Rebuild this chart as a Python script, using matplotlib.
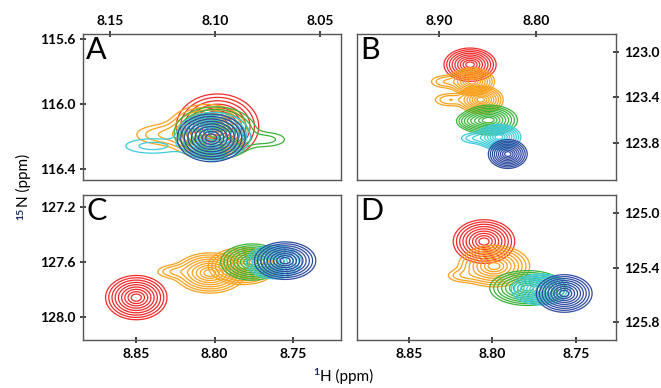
import numpy as np
import matplotlib
matplotlib.use('Agg')
import matplotlib.pyplot as plt

plt.rcParams['font.family'] = ['Lato', 'DejaVu Sans']

colours = {'red': '#f42a2a', 'orange': '#f8a11c', 'green': '#37b437',
           'cyan': '#3ccbdc', 'blue': '#2f4b9f'}

# peaks: (colour, 1H ppm, 15N ppm, 1H width, 15N width)
peaks_a = [('red', 8.099, 116.14, 0.0080, 0.082),
           ('orange', 8.104, 116.17, 0.0078, 0.068),
           ('green', 8.100, 116.18, 0.0080, 0.066),
           ('cyan', 8.101, 116.20, 0.0072, 0.060),
           ('blue', 8.102, 116.21, 0.0066, 0.060)]
# weak shoulders: (index of peak, 1H, 15N, amplitude, 1H width, 15N width)
shoulders_a = [(1, 8.124, 116.19, 0.15, 0.009, 0.040),
               (2, 8.076, 116.22, 0.11, 0.007, 0.032),
               (3, 8.130, 116.26, 0.11, 0.010, 0.035)]

peaks_b = [('red', 8.868, 123.11, 0.0110, 0.060),
           ('orange', 8.866, 123.26, 0.0095, 0.050),
           ('orange', 8.857, 123.42, 0.0095, 0.050),
           ('green', 8.848, 123.60, 0.0118, 0.054),
           ('cyan', 8.838, 123.75, 0.0092, 0.046),
           ('blue', 8.829, 123.90, 0.0082, 0.052)]
shoulders_b = [(1, 8.893, 123.26, 0.15, 0.010, 0.035),
               (2, 8.889, 123.42, 0.15, 0.010, 0.035),
               (3, 8.866, 123.61, 0.25, 0.008, 0.035),
               (4, 8.862, 123.76, 0.15, 0.010, 0.030)]

peaks_c = [('red', 8.850, 127.86, 0.0080, 0.066),
           ('orange', 8.803, 127.68, 0.0092, 0.060),
           ('orange', 8.782, 127.63, 0.0090, 0.055),
           ('green', 8.776, 127.60, 0.0082, 0.054),
           ('cyan', 8.762, 127.60, 0.0072, 0.050),
           ('blue', 8.755, 127.59, 0.0080, 0.056)]
shoulders_c = [(1, 8.826, 127.67, 0.14, 0.007, 0.030)]

peaks_d = [('red', 8.805, 125.21, 0.0075, 0.065),
           ('orange', 8.799, 125.39, 0.0087, 0.062),
           ('green', 8.779, 125.55, 0.0092, 0.052),
           ('cyan', 8.771, 125.56, 0.0072, 0.046),
           ('blue', 8.757, 125.59, 0.0068, 0.056)]
shoulders_d = [(1, 8.818, 125.46, 0.12, 0.006, 0.030)]

# axis ranges and ticks
xlims = [(8.163, 8.040), (8.985, 8.717), (8.884, 8.719), (8.881, 8.726)]
ylims = [(116.47, 115.57), (124.13, 122.84), (128.17, 127.11), (125.93, 124.87)]
xticks = [[8.15, 8.10, 8.05], [8.90, 8.80], [8.85, 8.80, 8.75], [8.85, 8.80, 8.75]]
yticks = [[115.6, 116.0, 116.4], [123.0, 123.4, 123.8],
          [127.2, 127.6, 128.0], [125.0, 125.4, 125.8]]
letters = ['A', 'B', 'C', 'D']

# contour levels giving roughly evenly spaced rings
radii = np.linspace(2.45, 0.4, 9)
levels = np.sort(np.exp(-0.5 * radii ** 2))

fig = plt.figure(figsize=(6.61, 3.88), dpi=100)
boxes = [[0.1256, 0.536, 0.391, 0.376], [0.540, 0.536, 0.392, 0.376],
         [0.1256, 0.1237, 0.391, 0.3737], [0.540, 0.1237, 0.392, 0.3737]]

panels = [(peaks_a, shoulders_a), (peaks_b, shoulders_b),
          (peaks_c, shoulders_c), (peaks_d, shoulders_d)]

for i, (peaks, shoulders) in enumerate(panels):
    ax = fig.add_axes(boxes[i])
    hh = np.linspace(min(xlims[i]), max(xlims[i]), 400)
    nn = np.linspace(min(ylims[i]), max(ylims[i]), 400)
    H, N = np.meshgrid(hh, nn)
    for k, (col, h, n, sh, sn) in enumerate(peaks):
        z = np.exp(-0.5 * ((H - h) / sh) ** 2 - 0.5 * ((N - n) / sn) ** 2)
        for (idx, h2, n2, amp, sh2, sn2) in shoulders:
            if idx == k:
                z += amp * np.exp(-0.5 * ((H - h2) / sh2) ** 2 - 0.5 * ((N - n2) / sn2) ** 2)
        ax.contour(H, N, z, levels=levels, colors=colours[col], linewidths=0.9)

    ax.set_xlim(xlims[i])
    ax.set_ylim(ylims[i])
    ax.set_xticks(xticks[i])
    ax.set_xticklabels(['%.2f' % t for t in xticks[i]])
    ax.set_yticks(yticks[i])
    ax.set_yticklabels(['%.1f' % t for t in yticks[i]])
    if i < 2:
        ax.xaxis.tick_top()
    if i % 2 == 1:
        ax.yaxis.tick_right()
    ax.tick_params(direction='inout', length=5, width=1.2, color='#222222',
                   labelsize=10, pad=3)
    for lab in ax.get_xticklabels() + ax.get_yticklabels():
        lab.set_fontweight('bold')
    for sp in ax.spines.values():
        sp.set_color('#555555')
        sp.set_linewidth(1.0)
    ax.text(0.012, 0.985, letters[i], transform=ax.transAxes, fontsize=22,
            va='top', ha='left', color='black')

# axis titles with coloured superscripts
fig.text(0.036, 1 - 207 / 388, 'N (ppm)', rotation=90, fontsize=11,
         ha='center', va='bottom')
fig.text(0.031, 1 - 208 / 388, '15', rotation=90, fontsize=7.5,
         ha='center', va='top', color='#1f2d6b', fontweight='bold')
fig.text(320 / 661, 1 - 384 / 388, 'H (ppm)', fontsize=11, ha='left', va='bottom')
fig.text(319 / 661, 1 - 368 / 388, '1', fontsize=7.5, ha='right', va='top',
         color='#1f2d6b', fontweight='bold')

fig.savefig('out.png', dpi=100)
